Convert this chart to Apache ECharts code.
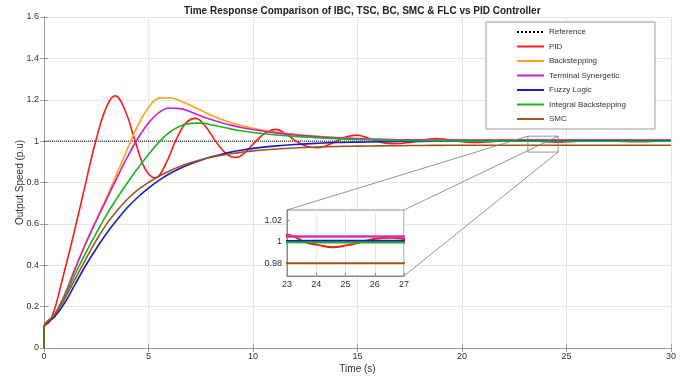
<!DOCTYPE html>
<html>
<head>
<meta charset="utf-8">
<title>Time Response Comparison</title>
<script src="https://cdn.jsdelivr.net/npm/echarts@6/dist/echarts.min.js"></script>
<style>
  html, body { margin: 0; padding: 0; background: #fff; }
  #chart { width: 689px; height: 376px; }
</style>
</head>
<body>
<div id="chart"></div>
<script>
// Shared time base (s) for the smooth controller responses
const timeBase = [0, 0.5, 1, 1.5, 2, 2.5, 3, 3.5, 4, 4.5, 5, 5.5, 6, 6.5, 7, 7.5, 8, 8.5, 9, 9.5, 10,
  11, 12, 13, 14, 15, 16, 17, 18, 19, 20, 22, 24, 26, 28, 30];

const backstepping = [0.1, 0.16, 0.26, 0.39, 0.51, 0.62, 0.73, 0.845, 0.965, 1.077, 1.162, 1.208, 1.21, 1.195, 1.173, 1.149, 1.125, 1.105, 1.088, 1.074, 1.062,
  1.045, 1.033, 1.024, 1.017, 1.012, 1.009, 1.007, 1.006, 1.0055, 1.005, 1.005, 1.005, 1.005, 1.005, 1.005];

const terminalSynergetic = [0.1, 0.16, 0.26, 0.385, 0.505, 0.615, 0.72, 0.825, 0.925, 1.015, 1.088, 1.138, 1.16, 1.157, 1.142, 1.122, 1.104, 1.089, 1.076, 1.065, 1.056,
  1.041, 1.03, 1.022, 1.016, 1.012, 1.009, 1.007, 1.006, 1.0055, 1.005, 1.005, 1.005, 1.005, 1.005, 1.005];

const fuzzyLogic = [0.1, 0.15, 0.22, 0.31, 0.4, 0.48, 0.555, 0.62, 0.68, 0.73, 0.773, 0.81, 0.842, 0.868, 0.89, 0.908, 0.924, 0.937, 0.948, 0.957, 0.965,
  0.976, 0.984, 0.989, 0.993, 0.995, 0.997, 0.998, 0.999, 0.9995, 1.0, 1.0008, 1.001, 1.001, 1.001, 1.001];

const integralBackstepping = [0.1, 0.16, 0.25, 0.36, 0.46, 0.555, 0.645, 0.725, 0.8, 0.87, 0.935, 0.995, 1.042, 1.072, 1.086, 1.087, 1.079, 1.068, 1.058, 1.049, 1.042,
  1.031, 1.023, 1.017, 1.012, 1.008, 1.005, 1.003, 1.002, 1.001, 1.0, 0.9998, 0.9995, 0.9995, 0.9995, 0.9995];

const smc = [0.1, 0.16, 0.24, 0.335, 0.43, 0.52, 0.6, 0.665, 0.72, 0.765, 0.8, 0.83, 0.856, 0.877, 0.895, 0.91, 0.922, 0.932, 0.94, 0.947, 0.953,
  0.961, 0.967, 0.971, 0.974, 0.976, 0.977, 0.978, 0.979, 0.9795, 0.98, 0.98, 0.98, 0.98, 0.98, 0.98];

// PID oscillates, so it has its own, denser time base
const pidTime = [0, 0.25, 0.5, 0.75, 1, 1.25, 1.5, 1.75, 2, 2.25, 2.5, 2.75, 3, 3.2, 3.4, 3.88, 4.36, 4.84, 5.33, 5.81,
  6.29, 6.77, 7.25, 7.73, 8.21, 8.7, 9.18, 9.66, 10.14, 10.62, 11.1, 11.58, 12.06, 12.54, 13.03, 13.51, 13.99, 14.47,
  14.95, 15.43, 15.91, 16.39, 16.87, 17.35, 17.84, 18.32, 18.8, 19.28, 19.76, 20.24, 20.72, 21.21, 21.69, 22.17, 22.65,
  23.13, 23.61, 24.09, 24.57, 25.06, 25.54, 26.02, 26.5, 26.98, 27.46, 27.94, 28.42, 28.91, 29.39, 29.87, 30];
const pid = [0.1, 0.125, 0.185, 0.28, 0.38, 0.48, 0.585, 0.69, 0.8, 0.91, 1.01, 1.1, 1.168, 1.205, 1.219, 1.148, 1.0, 0.866, 0.822, 0.887,
  1.0, 1.085, 1.11, 1.071, 1.0, 0.941, 0.921, 0.949, 1.0, 1.042, 1.057, 1.034, 1.0, 0.975, 0.968, 0.978, 1.0, 1.021,
  1.029, 1.017, 1.0, 0.989, 0.988, 0.992, 1.0, 1.009, 1.013, 1.008, 1.0, 0.995, 0.994, 0.996, 1.0, 1.005, 1.007,
  1.006, 1.0, 0.997, 0.995, 0.997, 1.0, 1.003, 1.004, 1.003, 1.0, 0.998, 0.997, 0.998, 1.0, 1.002, 1.002];

const referenceTime = [0, 30];
const referenceValue = [1, 1];

// Axis ticks
const xTicksMain = { min: 0, max: 30, step: 5 };
const yTicksMain = { min: 0, max: 1.6, step: 0.2 };
const xTicksInset = { min: 23, max: 27, step: 1 };
const yInsetRange = { min: 0.968, max: 1.03 };
const yTicksInset = [0.98, 1, 1.02];

// Region of the main plot that the magnified view points at
const zoomBox = { t0: 23.15, t1: 24.6, v0: 0.947, v1: 1.024 };

const names = ['Reference', 'PID', 'Backstepping', 'Terminal Synergetic', 'Fuzzy Logic', 'Integral Backstepping', 'SMC'];
const colors = ['#000000', '#ff1a1a', '#ffa21a', '#cc1fcc', '#1a1acc', '#1ab31a', '#a0561a'];

function pairs(ts, vs, withStep) {
  const out = ts.map((t, i) => [t, vs[i]]);
  if (withStep) out.unshift([0, 0]);
  return out;
}

const seriesData = [
  pairs(referenceTime, referenceValue, false),
  pairs(pidTime, pid, true),
  pairs(timeBase, backstepping, true),
  pairs(timeBase, terminalSynergetic, true),
  pairs(timeBase, fuzzyLogic, true),
  pairs(timeBase, integralBackstepping, true),
  pairs(timeBase, smc, true)
];

const FONT = "'Liberation Sans', Arial, Helvetica, sans-serif";
const axisGray = '#9a9a9a';
const gridGray = '#e6e6e6';

function makeSeries(idx, data, inset) {
  const isRef = idx === 0;
  return {
    name: names[idx],
    type: 'line',
    xAxisIndex: inset ? 2 : 0,
    yAxisIndex: inset ? 2 : 0,
    data: data,
    symbol: 'none',
    smooth: isRef ? false : 0.4,
    clip: true,
    silent: true,
    z: inset ? 12 : 3,
    lineStyle: {
      color: colors[idx],
      width: isRef ? 1 : (inset ? 2 : 1.6),
      type: isRef ? 'dotted' : 'solid'
    },
    itemStyle: { color: colors[idx] }
  };
}

const series = [];
seriesData.forEach((d, i) => series.push(makeSeries(i, d, false)));
seriesData.forEach((d, i) => series.push(makeSeries(i, d, true)));

// Inset grid lines
series.push({
  type: 'line', xAxisIndex: 2, yAxisIndex: 2, data: [], silent: true, z: 11,
  markLine: {
    silent: true, symbol: 'none', label: { show: false }, animation: false,
    lineStyle: { color: gridGray, width: 1, type: 'solid' },
    data: yTicksInset.map(v => ({ yAxis: v }))
  }
});

const chart = echarts.init(document.getElementById('chart'), null, { renderer: 'canvas' });

const option = {
  animation: false,
  backgroundColor: '#ffffff',
  title: {
    text: 'Time Response Comparison of IBC, TSC, BC, SMC & FLC vs PID Controller',
    left: 179, top: 1,
    textStyle: { fontFamily: FONT, fontSize: 10, fontWeight: 'bold', color: '#222' }
  },
  legend: {
    data: names,
    orient: 'vertical',
    left: 486, top: 22,
    padding: [5, 29, 5, 30],
    itemWidth: 27, itemHeight: 10, itemGap: 4.5,
    backgroundColor: '#fff',
    borderColor: '#9a9a9a', borderWidth: 1,
    selectedMode: false,
    itemStyle: { opacity: 0 },
    textStyle: { fontFamily: FONT, fontSize: 8, color: '#333', lineHeight: 10 }
  },
  grid: [
    { left: 44, right: 18, top: 17, bottom: 28, show: false, outerBoundsMode: 'none', containLabel: false },
    { left: 287, top: 210, width: 117, height: 66, show: true, backgroundColor: '#fff',
      borderColor: '#8a8a8a', borderWidth: 1, z: 10, outerBoundsMode: 'none', containLabel: false }
  ],
  xAxis: [
    {
      type: 'value', gridIndex: 0, min: xTicksMain.min, max: xTicksMain.max, interval: xTicksMain.step,
      name: 'Time (s)', nameLocation: 'middle', nameGap: 16, nameMoveOverlap: false,
      nameTextStyle: { fontFamily: FONT, fontSize: 10, color: '#333' },
      axisLine: { lineStyle: { color: axisGray } },
      axisTick: { inside: true, length: 4, lineStyle: { color: axisGray } },
      axisLabel: { fontFamily: FONT, fontSize: 9, color: '#333', margin: 4 },
      splitLine: { show: true, lineStyle: { color: gridGray } }
    },
    {
      type: 'value', gridIndex: 0, position: 'top', min: xTicksMain.min, max: xTicksMain.max, interval: xTicksMain.step,
      axisLine: { lineStyle: { color: axisGray } },
      axisTick: { inside: true, length: 4, lineStyle: { color: axisGray } },
      axisLabel: { show: false }, splitLine: { show: false }
    },
    {
      type: 'value', gridIndex: 1, min: xTicksInset.min, max: xTicksInset.max, interval: xTicksInset.step, z: 11,
      axisLine: { lineStyle: { color: '#8a8a8a' } },
      axisTick: { inside: true, length: 3, lineStyle: { color: '#8a8a8a' } },
      axisLabel: { fontFamily: FONT, fontSize: 9, color: '#333', margin: 4 },
      splitLine: { show: true, lineStyle: { color: gridGray } }
    }
  ],
  yAxis: [
    {
      type: 'value', gridIndex: 0, min: yTicksMain.min, max: yTicksMain.max, interval: yTicksMain.step,
      name: 'Output Speed (p.u)', nameLocation: 'middle', nameGap: 19, nameMoveOverlap: false,
      nameTextStyle: { fontFamily: FONT, fontSize: 10, color: '#333' },
      axisLine: { show: true, lineStyle: { color: axisGray } },
      axisTick: { show: true, inside: true, length: 4, lineStyle: { color: axisGray } },
      axisLabel: { fontFamily: FONT, fontSize: 9, color: '#333', margin: 5 },
      splitLine: { show: true, lineStyle: { color: gridGray } }
    },
    {
      type: 'value', gridIndex: 0, position: 'right', min: yTicksMain.min, max: yTicksMain.max, interval: yTicksMain.step,
      axisLine: { show: true, lineStyle: { color: axisGray } },
      axisTick: { show: true, inside: true, length: 4, lineStyle: { color: axisGray } },
      axisLabel: { show: false }, splitLine: { show: false }
    },
    {
      type: 'value', gridIndex: 1, min: yInsetRange.min, max: yInsetRange.max, z: 11,
      axisLine: { show: true, lineStyle: { color: '#8a8a8a' } },
      axisTick: { show: true, inside: true, length: 3, customValues: yTicksInset, lineStyle: { color: '#8a8a8a' } },
      axisLabel: { fontFamily: FONT, fontSize: 9, color: '#333', margin: 5, customValues: yTicksInset,
        formatter: v => String(Math.round(v * 100) / 100) },
      splitLine: { show: false }
    }
  ],
  series: series
};

chart.setOption(option);

// Zoom box on the main plot and the connectors to the magnified view
function mainPx(t, v) { return chart.convertToPixel({ xAxisIndex: 0, yAxisIndex: 0 }, [t, v]); }
function insetPx(t, v) { return chart.convertToPixel({ xAxisIndex: 2, yAxisIndex: 2 }, [t, v]); }

const bTL = mainPx(zoomBox.t0, zoomBox.v1);
const bTR = mainPx(zoomBox.t1, zoomBox.v1);
const bBR = mainPx(zoomBox.t1, zoomBox.v0);
const iTL = insetPx(xTicksInset.min, yInsetRange.max);
const iTR = insetPx(xTicksInset.max, yInsetRange.max);
const iBR = insetPx(xTicksInset.max, yInsetRange.min);

const connStyle = { stroke: '#7a7a7a', lineWidth: 0.8, fill: null };
chart.setOption({
  graphic: [
    { type: 'rect', z: 20, silent: true,
      shape: { x: bTL[0], y: bTL[1], width: bTR[0] - bTL[0], height: bBR[1] - bTR[1] },
      style: connStyle },
    { type: 'line', z: 20, silent: true, shape: { x1: iTL[0], y1: iTL[1], x2: bTL[0], y2: bTL[1] }, style: connStyle },
    { type: 'line', z: 20, silent: true, shape: { x1: iTR[0], y1: iTR[1], x2: bTR[0], y2: bTR[1] }, style: connStyle },
    { type: 'line', z: 20, silent: true, shape: { x1: iBR[0], y1: iBR[1], x2: bBR[0], y2: bBR[1] }, style: connStyle }
  ]
});
</script>
</body>
</html>
